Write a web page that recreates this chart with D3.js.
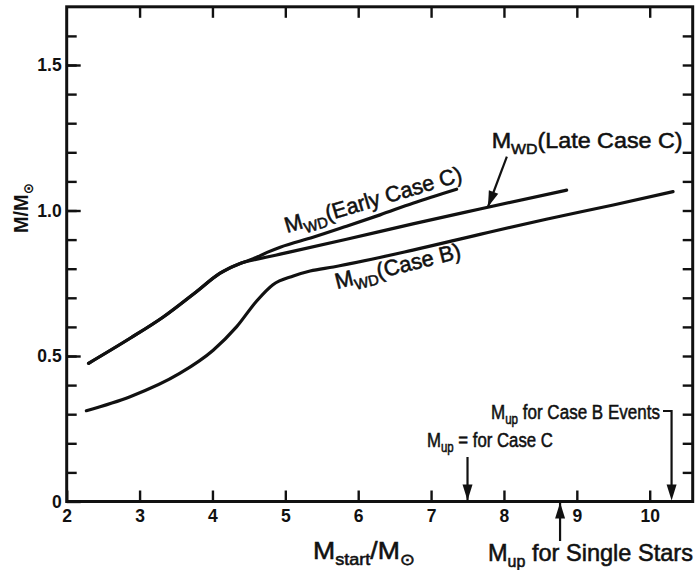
<!DOCTYPE html>
<html>
<head>
<meta charset="utf-8">
<script src="https://cdn.jsdelivr.net/npm/d3@7"></script>
<style>
  html, body { margin: 0; padding: 0; background: #fff; }
  svg { display: block; }
</style>
</head>
<body>
<svg id="chart" width="695" height="570"></svg>
<script>
// Initial stellar mass (M_start / M_sun) and white-dwarf mass (M / M_sun)
const earlyCaseC_mStart = [2.30, 2.87, 3.33, 3.78, 4.10, 4.38, 4.56, 4.75, 4.93, 5.38, 5.84, 6.30, 6.75, 7.35];
const earlyCaseC_mass   = [0.475, 0.561, 0.635, 0.721, 0.784, 0.818, 0.834, 0.856, 0.874, 0.908, 0.946, 0.985, 1.025, 1.073];

const lateCaseC_mStart = [2.30, 2.87, 3.33, 3.78, 4.10, 4.38, 4.56, 4.75, 4.93, 5.84, 6.75, 7.67, 8.86];
const lateCaseC_mass   = [0.475, 0.561, 0.635, 0.721, 0.784, 0.818, 0.830, 0.840, 0.850, 0.901, 0.954, 1.005, 1.070];

const caseB_mStart = [2.27, 2.87, 3.55, 4.01, 4.33, 4.61, 4.83, 5.11, 5.34, 5.66, 6.75, 7.67, 8.58, 9.50, 10.32];
const caseB_mass   = [0.312, 0.360, 0.440, 0.520, 0.600, 0.690, 0.745, 0.775, 0.792, 0.806, 0.864, 0.918, 0.970, 1.019, 1.065];

// Upper mass limits marked below the curves
const mUpCaseC = 7.5;
const mUpSingle = 8.77;
const mUpCaseB = 10.3;

// Axis ticks
const xTickValues = [2, 3, 4, 5, 6, 7, 8, 9, 10];
const yMajorTicks = [0, 0.5, 1.0, 1.5];
const yMajorLabels = ["0", "0.5", "1.0", "1.5"];
const yMinorTicks = d3.range(1, 17).map(i => i / 10);

const svg = d3.select("#chart");
const x = d3.scaleLinear().domain([2, 10.59]).range([66.7, 692.7]);
const y = d3.scaleLinear().domain([0, 1.7]).range([501.5, 6.8]);

const FONT = "'Liberation Sans', 'DejaVu Sans', sans-serif";
const INK = "#111";

// Frame
svg.append("rect")
  .attr("x", x(2)).attr("y", y(1.7))
  .attr("width", x(10.59) - x(2)).attr("height", y(0) - y(1.7))
  .attr("fill", "none").attr("stroke", INK).attr("stroke-width", 3);

function styleAxis(g) {
  g.select(".domain").remove();
  g.selectAll(".tick line").attr("stroke", INK).attr("stroke-width", 2.4);
  g.selectAll(".tick text")
    .attr("font-family", FONT).attr("font-weight", "bold")
    .attr("font-size", 17.5).attr("fill", INK);
}

// Left axis: minor ticks and labelled major ticks, pointing inward
svg.append("g").attr("transform", `translate(${x(2)},0)`)
  .call(d3.axisLeft(y).tickValues(yMinorTicks).tickSize(-10).tickSizeOuter(0).tickFormat(""))
  .call(styleAxis);
svg.append("g").attr("transform", `translate(${x(2)},0)`)
  .call(d3.axisLeft(y).tickValues(yMajorTicks).tickSize(-14).tickSizeOuter(0).tickPadding(5)
    .tickFormat((d, i) => yMajorLabels[i]))
  .call(styleAxis);

// Right axis: inward minor ticks
svg.append("g").attr("transform", `translate(${x(10.59)},0)`)
  .call(d3.axisRight(y).tickValues(yMinorTicks).tickSize(-10).tickSizeOuter(0).tickFormat(""))
  .call(styleAxis);

// Bottom axis
svg.append("g").attr("transform", `translate(0,${y(0)})`)
  .call(d3.axisBottom(x).tickValues(xTickValues).tickSize(-11).tickSizeOuter(0).tickPadding(8)
    .tickFormat(d3.format("d")))
  .call(styleAxis);

// Top axis
svg.append("g").attr("transform", `translate(0,${y(1.7)})`)
  .call(d3.axisTop(x).tickValues(xTickValues.slice(1)).tickSize(-11).tickSizeOuter(0).tickFormat(""))
  .call(styleAxis);

// Curves
const line = d3.line().x(d => x(d[0])).y(d => y(d[1])).curve(d3.curveMonotoneX);
const series = [
  [earlyCaseC_mStart, earlyCaseC_mass],
  [lateCaseC_mStart, lateCaseC_mass],
  [caseB_mStart, caseB_mass]
];
svg.append("g").selectAll("path")
  .data(series.map(([xs, ys]) => xs.map((v, i) => [v, ys[i]])))
  .join("path")
  .attr("d", line)
  .attr("fill", "none").attr("stroke", INK)
  .attr("stroke-width", 3.2).attr("stroke-linecap", "round");

// Text with subscripts, squeezed horizontally to a given width
function label(parts, px, py, opts) {
  const o = Object.assign({ size: 21, rotate: 0, width: null, anchor: "start", weight: "normal", stroke: 0.55 }, opts);
  const g = svg.append("g").attr("transform", `translate(${px},${py}) rotate(${o.rotate})`);
  const t = g.append("text")
    .attr("font-family", FONT).attr("font-size", o.size).attr("font-weight", o.weight)
    .attr("fill", INK).attr("stroke", INK).attr("stroke-width", o.stroke);
  let shift = 0;
  parts.forEach(p => {
    const dy = p.sub ? o.size * 0.25 - shift : -shift;
    shift = p.sub ? o.size * 0.25 : 0;
    t.append("tspan").attr("dy", dy)
      .attr("fill", INK)
      .attr("font-size", p.sub ? o.size * 0.68 : o.size)
      .text(p.t);
  });
  const w = t.node().getComputedTextLength();
  const sx = o.width ? o.width / w : 1;
  const dx = o.anchor === "middle" ? -w / 2 : 0;
  t.attr("transform", `scale(${sx},1) translate(${dx},0)`);
  return g;
}

// Filled arrowhead with its tip at (tx, ty), pointing along angle (radians)
function arrowHead(tx, ty, ang, len = 16, half = 5) {
  const bx = tx - len * Math.cos(ang), by = ty - len * Math.sin(ang);
  const nx = -Math.sin(ang) * half, ny = Math.cos(ang) * half;
  svg.append("path")
    .attr("d", `M${tx},${ty}L${bx + nx},${by + ny}L${bx - nx},${by - ny}Z`)
    .attr("fill", INK);
}
function arrow(x1, y1, x2, y2) {
  svg.append("line").attr("x1", x1).attr("y1", y1).attr("x2", x2).attr("y2", y2)
    .attr("stroke", INK).attr("stroke-width", 2.2);
  arrowHead(x2, y2, Math.atan2(y2 - y1, x2 - x1));
}

// Curve labels
label([{ t: "M" }, { t: "WD", sub: true }, { t: "(Early Case C)" }], 287, 233,
  { size: 22, rotate: -16.5, width: 184 });
label([{ t: "M" }, { t: "WD", sub: true }, { t: "(Late Case C)" }], 491.7, 148,
  { size: 22, width: 191 });
label([{ t: "M" }, { t: "WD", sub: true }, { t: "(Case B)" }], 337, 289,
  { size: 22, rotate: -14, width: 129 });

// Pointer to the late case C curve
arrow(x(8.04), y(1.185), x(7.78), y(1.012));

// Upper mass limits
label([{ t: "M" }, { t: "up", sub: true }, { t: " for Case B Events" }], 491, 419,
  { size: 21, width: 169 });
svg.append("path")
  .attr("d", `M${663},${411}H${x(mUpCaseB)}V${y(0) - 14}`)
  .attr("fill", "none").attr("stroke", INK).attr("stroke-width", 2.2);
arrowHead(x(mUpCaseB), y(0) - 1, Math.PI / 2);

label([{ t: "M" }, { t: "up", sub: true }, { t: " = for Case C" }], 427, 447,
  { size: 21, width: 126 });
arrow(x(mUpCaseC), 457, x(mUpCaseC), y(0) - 1);

label([{ t: "M" }, { t: "up", sub: true }, { t: " for Single Stars" }], 488, 561,
  { size: 24, width: 205 });
arrow(x(mUpSingle), 541, x(mUpSingle), y(0) + 1);

// Axis titles
label([{ t: "M" }, { t: "start", sub: true }, { t: "/M" }, { t: "⊙", sub: true }], 364, 559,
  { size: 24, width: 102, anchor: "middle" });
label([{ t: "M/M" }, { t: "⊙", sub: true }], 28, 208,
  { size: 20, rotate: -90, width: 50, anchor: "middle", weight: "bold", stroke: 0 });
</script>
</body>
</html>
